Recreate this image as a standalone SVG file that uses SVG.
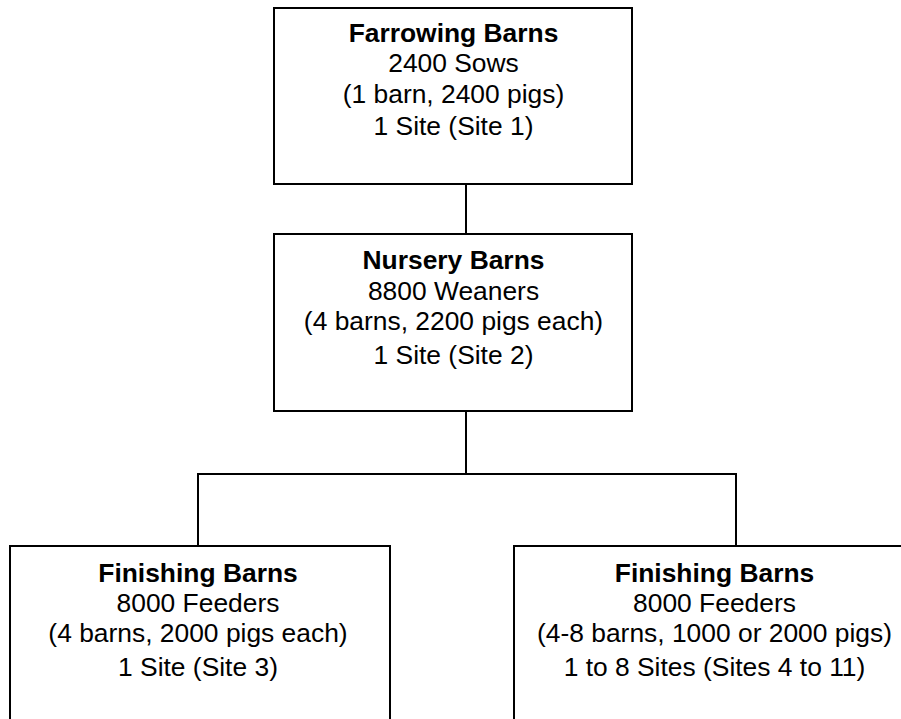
<svg xmlns="http://www.w3.org/2000/svg" width="901" height="719" viewBox="0 0 901 719">
<style>
.box{fill:#fff;stroke:#000;stroke-width:2}
.ln{fill:none;stroke:#000;stroke-width:2}
text{font-family:"Liberation Sans",Arial,sans-serif;font-size:26.4px;fill:#000;text-anchor:middle}
.t{font-weight:bold}
</style>
<rect width="901" height="719" fill="#fff"/>
<g id="connectors">
<path class="ln" d="M466 185V234"/>
<path class="ln" d="M466 412V474"/>
<path class="ln" d="M199 474H737"/>
<path class="ln" d="M198 473V546"/>
<path class="ln" d="M736 474V546"/>
</g>
<g id="farrowing">
<rect class="box" x="274" y="8" width="358" height="176"/>
<text class="t" x="453.5" y="42">Farrowing Barns</text>
<text x="453.5" y="72">2400 Sows</text>
<text x="453.5" y="103">(1 barn, 2400 pigs)</text>
<text x="453.5" y="135">1 Site (Site 1)</text>
</g>
<g id="nursery">
<rect class="box" x="274" y="234" width="358" height="177"/>
<text class="t" x="453.5" y="269">Nursery Barns</text>
<text x="453.5" y="300">8800 Weaners</text>
<text x="453.5" y="330">(4 barns, 2200 pigs each)</text>
<text x="453.5" y="364">1 Site (Site 2)</text>
</g>
<g id="finishing1">
<rect class="box" x="10" y="546" width="380" height="190"/>
<text class="t" x="198" y="582">Finishing Barns</text>
<text x="198" y="612">8000 Feeders</text>
<text x="198" y="642">(4 barns, 2000 pigs each)</text>
<text x="198" y="676">1 Site (Site 3)</text>
</g>
<g id="finishing2">
<rect class="box" x="514" y="546" width="402" height="190"/>
<text class="t" x="714.5" y="582">Finishing Barns</text>
<text x="714.5" y="612">8000 Feeders</text>
<text x="714.5" y="642">(4-8 barns, 1000 or 2000 pigs)</text>
<text x="714.5" y="676">1 to 8 Sites (Sites 4 to 11)</text>
</g>
</svg>
